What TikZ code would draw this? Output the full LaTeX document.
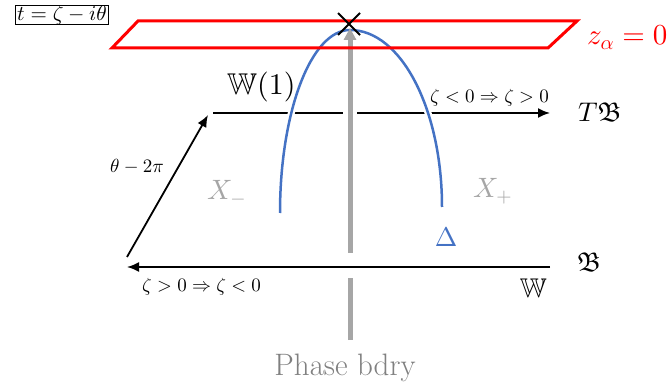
\documentclass[tikz,border=0pt]{standalone}
\usepackage{amssymb}
\DeclareFontShape{OML}{cmm}{m}{it}{<-> cmmi10}{\skewchar\font'177}
\DeclareFontShape{OMS}{cmsy}{m}{n}{<-> cmsy10}{\skewchar\font'60}
\DeclareFontShape{OT1}{cmr}{m}{n}{<-> cmr10}{}
\DeclareFontShape{OMX}{cmex}{m}{n}{<-> cmex10}{}
\usetikzlibrary{arrows.meta}
\definecolor{myblue}{HTML}{4472C4}
\definecolor{lgray}{HTML}{A6A6A6}
\definecolor{dgray}{HTML}{808080}
\definecolor{myred}{HTML}{FF0000}
\begin{document}
\begin{tikzpicture}[x=1pt,y=-1pt,
  axisline/.style={line width=1.8pt},
  axisarrow/.style={line width=1.8pt,-{Latex[length=12pt,width=10pt]}},
  blueline/.style={myblue,line width=2.5pt,preaction={draw,white,line width=7pt}},
  grayline/.style={lgray,line width=5pt},
  grayarrow/.style={lgray,line width=5pt,-{Triangle[length=12pt,width=12pt]}},
  redbox/.style={myred,line width=3pt,line join=miter},
  small/.style={inner sep=0pt,font=\fontsize{19}{22}\selectfont},
  big/.style={inner sep=0pt,font=\fontsize{27}{31}\selectfont}]
\useasboundingbox (0,0) rectangle (669,387);
% coordinates
\coordinate (tS) at (213,113);
\coordinate (tGL) at (343,113);
\coordinate (tGR) at (357,113);
\coordinate (tE) at (550,113);
\coordinate (bS) at (550,267);
\coordinate (bE) at (127,267);
\coordinate (dS) at (127,257);
\coordinate (dE) at (208,115);
\coordinate (gB) at (350,340);
\coordinate (gB2) at (350,278);
\coordinate (gT1) at (350,253);
\coordinate (gT) at (350,28);
\coordinate (aL) at (280,213);
\coordinate (aTop) at (350,30);
\coordinate (aR) at (442,207);
\coordinate (r1) at (138,21);
\coordinate (r2) at (577,21);
\coordinate (r3) at (548,48);
\coordinate (r4) at (112,48);
\coordinate (xc) at (349,24);
% axes
\draw[axisline] (tS) -- (tGL);
\draw[axisarrow] (tGR) -- (tE);
\draw[axisarrow] (bS) -- (bE);
\draw[axisarrow] (dS) -- (dE);
% blue arc
\draw[blueline] (aL) .. controls (280,112) and (311,30) .. (aTop)
  .. controls (401,30) and (442,109) .. (aR);
% gray phase boundary
\draw[grayline] (gB) -- (gB2);
\draw[grayarrow] (gT1) -- (gT);
% red plane
\draw[redbox] (r1) -- (r2) -- (r3) -- (r4) -- cycle;
% cross
\draw[line width=2pt] ([shift={(-11,-11)}]xc) -- ([shift={(11,11)}]xc);
\draw[line width=2pt] ([shift={(-11,11)}]xc) -- ([shift={(11,-11)}]xc);
% labels
\node[draw,line width=0.8pt,inner xsep=2pt,inner ysep=0.5pt,font=\fontsize{21}{24}\selectfont] (eq) at (62,15) {$t=\zeta-i\theta$};
\node[anchor=base west,myred,inner sep=0pt,font=\fontsize{29}{33}\selectfont] (za) at (587,45) {$z_\alpha=0$};
\node[inner sep=0pt,font=\fontsize{30}{34}\selectfont,anchor=base west] (w1) at (227,95) {$\mathbb{W}(1)$};
\node[small,anchor=base east] (lt) at (549,103) {$\zeta<0\Rightarrow\zeta>0$};
\node[big,anchor=base west] (tb) at (578,122) {$T\mathfrak{B}$};
\node[small,anchor=base west] (th) at (110,173) {$\theta-2\pi$};
\node[big,anchor=base west,lgray,font=\fontsize{28}{32}\selectfont] (xm) at (207,200) {$X_-$};
\node[big,anchor=base west,lgray,font=\fontsize{28}{32}\selectfont] (xp) at (473,198) {$X_+$};
\node[big,anchor=base,myblue] (dl) at (446,247) {$\Delta$};
\node[big,anchor=base west] (fb) at (577,272) {$\mathfrak{B}$};
\node[small,anchor=base west] (lb) at (142,291) {$\zeta>0\Rightarrow\zeta<0$};
\node[big,anchor=base east] (ww) at (547,298) {$\mathbb{W}$};
\node[anchor=base,dgray,inner sep=0pt,font=\fontsize{31}{35}\selectfont] (pb) at (345,375) {Phase bdry};
\end{tikzpicture}
\end{document}
